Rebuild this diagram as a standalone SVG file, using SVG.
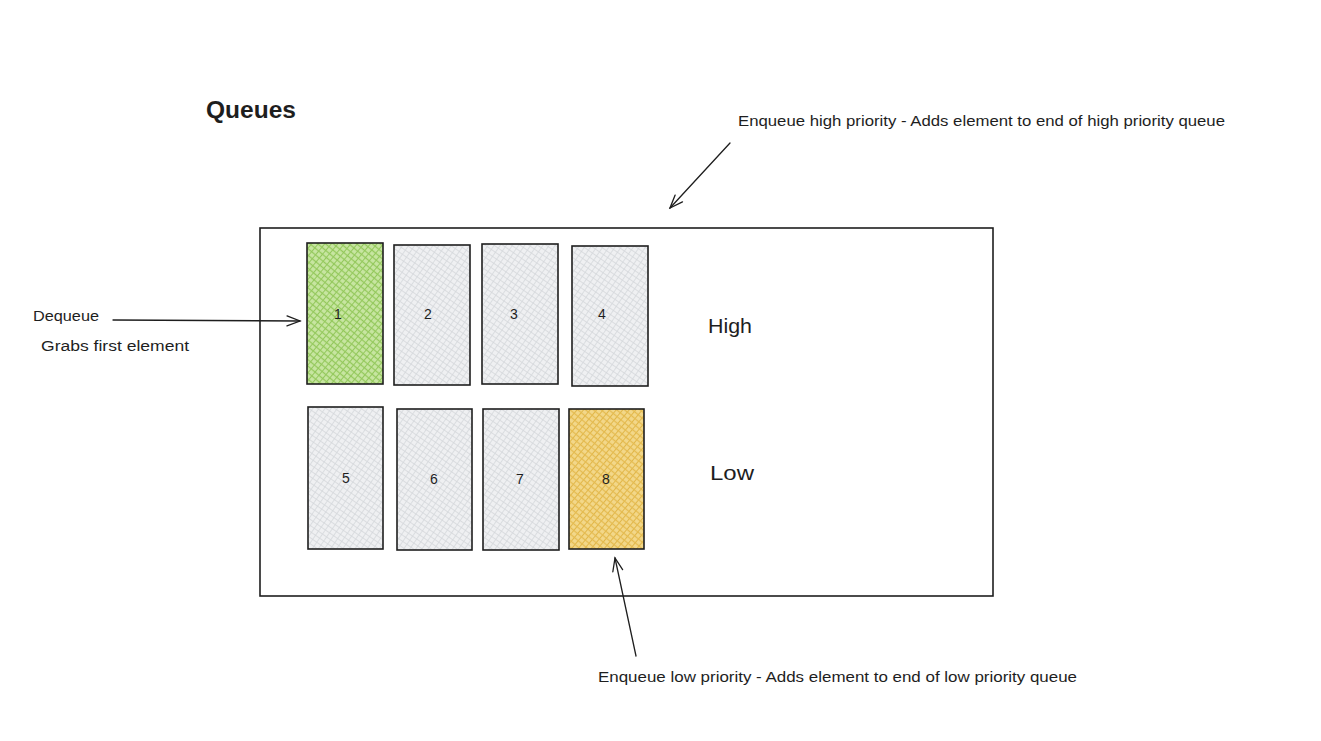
<svg xmlns="http://www.w3.org/2000/svg" width="1321" height="741" viewBox="0 0 1321 741">
<style>
.hand{font-family:"Liberation Sans","DejaVu Sans",sans-serif;fill:#1e1e1e}
.box{stroke:#1e1e1e;stroke-width:1.6}
.num{font-size:14px;text-anchor:middle}
.conn{stroke:#1e1e1e;stroke-width:1.3;fill:none;stroke-linecap:round}
</style>
<defs>
<pattern id="hgray" width="5" height="5" patternUnits="userSpaceOnUse" patternTransform="rotate(35)">
<rect width="5" height="5" fill="#eff0f2"/>
<line x1="0" y1="0" x2="0" y2="5" stroke="#c6cacf" stroke-width="1"/>
<line x1="0" y1="2.5" x2="5" y2="2.5" stroke="#d4d7db" stroke-width="0.8"/>
</pattern>
<pattern id="hgreen" width="5" height="5" patternUnits="userSpaceOnUse" patternTransform="rotate(40)">
<rect width="5" height="5" fill="#c8e6a2"/>
<line x1="0" y1="0" x2="0" y2="5" stroke="#82bd45" stroke-width="1.5"/>
<line x1="0" y1="2.5" x2="5" y2="2.5" stroke="#94c95c" stroke-width="1.3"/>
</pattern>
<pattern id="hyellow" width="5" height="5" patternUnits="userSpaceOnUse" patternTransform="rotate(40)">
<rect width="5" height="5" fill="#f3d88a"/>
<line x1="0" y1="0" x2="0" y2="5" stroke="#dcab32" stroke-width="1.5"/>
<line x1="0" y1="2.5" x2="5" y2="2.5" stroke="#e5bb50" stroke-width="1.3"/>
</pattern>
<marker id="arr" markerWidth="16" markerHeight="12" refX="14" refY="6" orient="auto" markerUnits="userSpaceOnUse">
<path d="M1,1 L14,6 L1,11" fill="none" stroke="#1e1e1e" stroke-width="1.3" stroke-linecap="round"/>
</marker>
</defs>
<rect width="1321" height="741" fill="#ffffff"/>

<g id="title"><text class="hand" x="206" y="118" font-size="23" font-weight="bold" textLength="90" lengthAdjust="spacingAndGlyphs">Queues</text></g>

<g id="container"><rect x="260" y="228" width="733" height="368" fill="none" class="box" stroke-width="1.3"/></g>

<g id="node1"><rect class="box" x="307" y="243" width="76" height="141" fill="url(#hgreen)"/><text class="hand num" x="338" y="319">1</text></g>
<g id="node2"><rect class="box" x="394" y="245" width="76" height="140" fill="url(#hgray)"/><text class="hand num" x="428" y="319">2</text></g>
<g id="node3"><rect class="box" x="482" y="244" width="76" height="140" fill="url(#hgray)"/><text class="hand num" x="514" y="319">3</text></g>
<g id="node4"><rect class="box" x="572" y="246" width="76" height="140" fill="url(#hgray)"/><text class="hand num" x="602" y="319">4</text></g>
<g id="node5"><rect class="box" x="308" y="407" width="75" height="142" fill="url(#hgray)"/><text class="hand num" x="346" y="483">5</text></g>
<g id="node6"><rect class="box" x="397" y="409" width="75" height="141" fill="url(#hgray)"/><text class="hand num" x="434" y="484">6</text></g>
<g id="node7"><rect class="box" x="483" y="409" width="76" height="141" fill="url(#hgray)"/><text class="hand num" x="520" y="484">7</text></g>
<g id="node8"><rect class="box" x="569" y="409" width="75" height="140" fill="url(#hyellow)"/><text class="hand num" x="606" y="484">8</text></g>

<g id="label-high"><text class="hand" x="708" y="333" font-size="21" textLength="44" lengthAdjust="spacingAndGlyphs">High</text></g>
<g id="label-low"><text class="hand" x="710" y="480" font-size="21" textLength="44" lengthAdjust="spacingAndGlyphs">Low</text></g>

<g id="label-dequeue"><text class="hand" x="33" y="321" font-size="15" textLength="66" lengthAdjust="spacingAndGlyphs">Dequeue</text>
<text class="hand" x="41" y="351" font-size="14" textLength="148" lengthAdjust="spacingAndGlyphs">Grabs first element</text></g>

<g id="label-enq-high"><text class="hand" x="738" y="126" font-size="15" textLength="487" lengthAdjust="spacingAndGlyphs">Enqueue high priority - Adds element to end of high priority queue</text></g>
<g id="label-enq-low"><text class="hand" x="598" y="682" font-size="15" textLength="479" lengthAdjust="spacingAndGlyphs">Enqueue low priority - Adds element to end of low priority queue</text></g>

<g id="connectors">
<path class="conn" d="M113,320 L300,321" marker-end="url(#arr)"/>
<path class="conn" d="M730,143 L670,208" marker-end="url(#arr)"/>
<path class="conn" d="M636,656 L615,558" marker-end="url(#arr)"/>
</g>
</svg>
